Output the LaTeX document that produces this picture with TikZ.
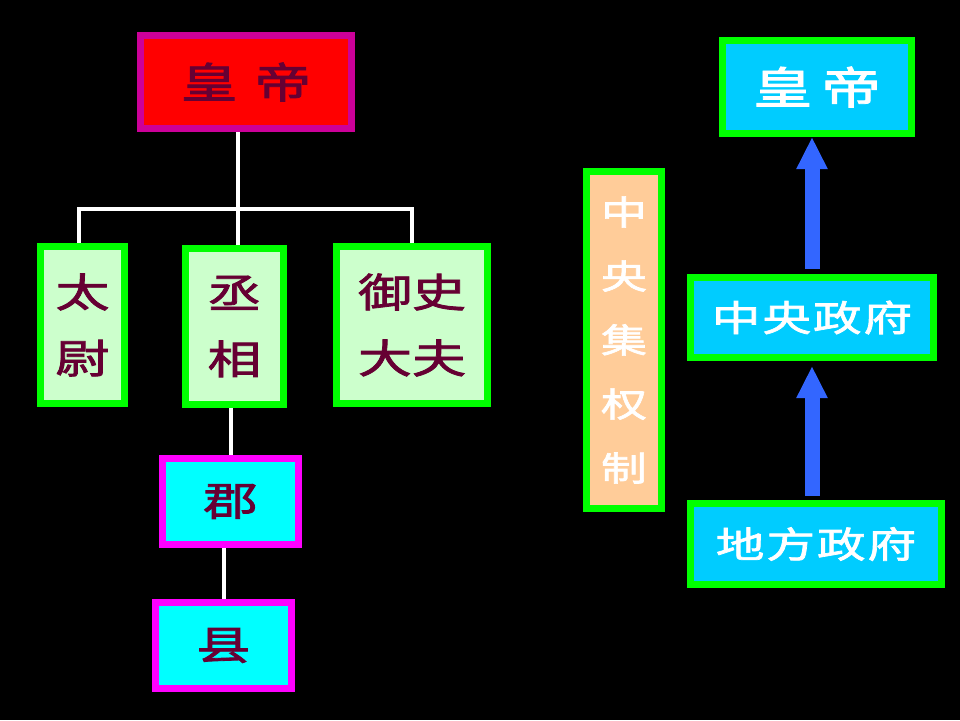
\documentclass[tikz,border=0pt]{standalone}
\usepackage{fontspec}
\usetikzlibrary{arrows.meta}
\newfontfamily\cjk{Noto Sans CJK SC}[FakeStretch=1.35,FakeBold=2]
\definecolor{empborder}{HTML}{CC0099}
\definecolor{txtred}{HTML}{660033}
\definecolor{gborder}{HTML}{00FF00}
\definecolor{gfill}{HTML}{CCFFCC}
\definecolor{mborder}{HTML}{FF00FF}
\definecolor{cfill}{HTML}{00FFFF}
\definecolor{peach}{HTML}{FFCC99}
\definecolor{bfill}{HTML}{00CCFF}
\definecolor{arrowblue}{HTML}{3366FF}
\begin{document}
\begin{tikzpicture}[x=1pt,y=-1pt,
  box/.style={draw,line width=7pt,rectangle,inner sep=0pt,align=center},
  empbox/.style={box,draw=empborder,fill=red,text=txtred,font=\fontsize{42}{50}\selectfont\cjk},
  offbox/.style={box,draw=gborder,fill=gfill,text=txtred,font=\fontsize{40}{66}\selectfont\cjk},
  locbox/.style={box,draw=mborder,fill=cfill,text=txtred,font=\fontsize{40}{50}\selectfont\cjk},
  sysbox/.style={box,draw=gborder,fill=peach,text=white,font=\fontsize{34}{64}\selectfont\cjk},
  rbox/.style={box,draw=gborder,fill=bfill,text=white},
  conn/.style={draw=white,line width=4pt},
  bigarrow/.style={draw=arrowblue,line width=15pt,-{Triangle[width=29pt,length=32pt]}}
]
\fill[black] (0,0) rectangle (960,720);
\useasboundingbox (0,0) rectangle (960,720);

% left tree
\node[empbox,minimum width=211pt,minimum height=93pt] (emp) at (246,82) {皇\hspace{17pt}帝};
\node[offbox,minimum width=84pt,minimum height=157pt] (tw) at (82.5,325) {太\\尉};
\node[offbox,minimum width=98pt,minimum height=156pt] (zx) at (234.5,326.5) {丞\\相};
\node[offbox,minimum width=151pt,minimum height=157pt] (ys) at (412,325) {御史\\大夫};
\node[locbox,minimum width=136pt,minimum height=86pt] (jun) at (230.5,501.5) {郡};
\node[locbox,minimum width=136pt,minimum height=86pt] (xian) at (223.5,645.5) {县};

\coordinate (bus) at (238,209);
\coordinate (busL) at (79,209);
\coordinate (busR) at (412,209);
\draw[conn] (emp.south -| bus) -- (bus);
\draw[conn] (busL |- tw.north) -- (busL) -- (busR) -- (busR |- ys.north);
\draw[conn] (bus) -- (bus |- zx.north);
\draw[conn] (zx.south -| jun.north) -- (jun.north);
\draw[conn] (jun.south -| xian.north) -- (xian.north);

% middle label
\node[sysbox,minimum width=75pt,minimum height=337pt] (sys) at (624,340) {中\\央\\集\\权\\制};

% right chain
\node[rbox,minimum width=189pt,minimum height=93pt,font=\fontsize{44}{50}\selectfont\cjk] (emp2) at (817,87) {皇\hspace{9pt}帝};
\node[rbox,minimum width=243pt,minimum height=80pt,font=\fontsize{36}{44}\selectfont\cjk] (zyzf) at (812,317.5) {中\hspace{2pt}央\hspace{2pt}政\hspace{2pt}府};
\node[rbox,minimum width=251pt,minimum height=81pt,font=\fontsize{36}{44}\selectfont\cjk] (dfzf) at (816,544) {地\hspace{2pt}方\hspace{2pt}政\hspace{2pt}府};

\draw[bigarrow,shorten <=5pt] (zyzf.north) -- (emp2.south -| zyzf.north);
\draw[bigarrow,shorten <=4pt,shorten >=5pt] (dfzf.north -| zyzf.north) -- (zyzf.south);
\end{tikzpicture}
\end{document}
